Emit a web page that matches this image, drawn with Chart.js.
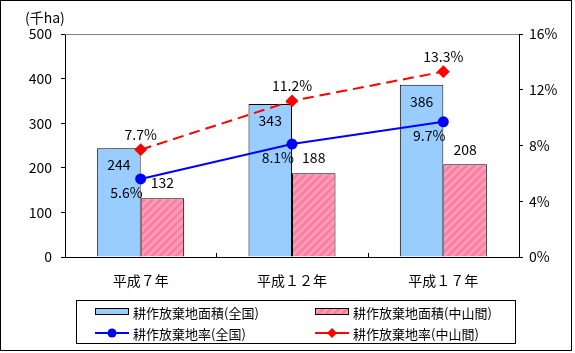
<!DOCTYPE html>
<html>
<head>
<meta charset="utf-8">
<script src="https://cdn.jsdelivr.net/npm/chart.js@4"></script>
<style>
  body { margin: 0; background: #fff; }
  canvas { display: block; }
</style>
</head>
<body>
<canvas id="grafico" width="575" height="353"></canvas>
<script>
var categorias = ["平成７年", "平成１２年", "平成１７年"];
var areaZenkoku = [244, 343, 386];
var areaChusankan = [132, 188, 208];
var ritsuZenkoku = [5.6, 8.1, 9.7];
var ritsuChusankan = [7.7, 11.2, 13.3];
var nombresSeries = [
  "耕作放棄地面積(全国)",
  "耕作放棄地面積(中山間)",
  "耕作放棄地率(全国)",
  "耕作放棄地率(中山間)",
];

var fuente = "'Noto Sans CJK JP', 'Noto Sans', sans-serif";
Chart.defaults.font.family = fuente;
Chart.defaults.font.size = 14;
Chart.defaults.color = "#000";

// trama rayada rosa
function hacerTrama() {
  var c = document.createElement("canvas");
  c.width = 8;
  c.height = 8;
  var g = c.getContext("2d");
  g.fillStyle = "#ff99cc";
  g.fillRect(0, 0, 8, 8);
  g.strokeStyle = "#ff7f86";
  g.lineWidth = 2.5;
  g.beginPath();
  g.moveTo(-2, 10); g.lineTo(10, -2);
  g.moveTo(-6, 6); g.lineTo(6, -6);
  g.moveTo(2, 14); g.lineTo(14, 2);
  g.stroke();
  return g.createPattern(c, "repeat");
}
var trama = hacerTrama();

// etiquetas de datos
var etiquetas = {
  id: "etiquetas",
  afterDatasetsDraw: function (chart) {
    var ctx = chart.ctx;
    ctx.save();
    ctx.font = "14px " + fuente;
    ctx.fillStyle = "#000";
    ctx.textBaseline = "middle";
    chart.data.datasets.forEach(function (ds, i) {
      var meta = chart.getDatasetMeta(i);
      meta.data.forEach(function (el, j) {
        var v = ds.data[j];
        var txt = ds.esPct ? v.toFixed(1) + "%" : String(v);
        var x = el.x, y = el.y;
        if (ds.pos === "dentro") { ctx.textAlign = "center"; y += 17; }
        if (ds.pos === "arriba") { ctx.textAlign = "center"; y -= 15; }
        if (ds.pos === "abajoIzq") { ctx.textAlign = "right"; x += 2; y += 14; }
        ctx.fillText(txt, x, y);
      });
    });
    ctx.restore();
  },
};

// marco, ticks interiores, unidad y leyenda
var adornos = {
  id: "adornos",
  afterDraw: function (chart) {
    var ctx = chart.ctx;
    var a = chart.chartArea;
    ctx.save();
    ctx.lineWidth = 1;
    ctx.strokeStyle = "#808080";
    ctx.beginPath();
    ctx.moveTo(a.left, Math.round(a.top) + 0.5);
    ctx.lineTo(a.right, Math.round(a.top) + 0.5);
    ctx.stroke();

    ctx.strokeStyle = "#000";
    var ancho = (a.right - a.left) / categorias.length;
    ctx.beginPath();
    for (var k = 1; k < categorias.length; k++) {
      var xx = Math.round(a.left + ancho * k) + 0.5;
      ctx.moveTo(xx, a.bottom);
      ctx.lineTo(xx, a.bottom - 4);
    }
    ctx.stroke();

    ctx.strokeRect(0.5, 0.5, 571, 350);

    ctx.fillStyle = "#000";
    ctx.font = "14px " + fuente;
    ctx.textAlign = "left";
    ctx.textBaseline = "middle";
    ctx.fillText("(千ha)", 25, 18);

    // leyenda
    ctx.strokeRect(76.5, 300.5, 439, 43);
    ctx.font = "13px " + fuente;
    var cols = [95, 315];
    var filas = [312, 333];
    for (var n = 0; n < 4; n++) {
      var x0 = cols[n % 2], y0 = filas[Math.floor(n / 2)];
      if (n < 2) {
        ctx.fillStyle = n === 0 ? "#99ccff" : trama;
        ctx.fillRect(x0, y0 - 3, 34, 6);
        ctx.strokeStyle = "#000";
        ctx.strokeRect(x0 + 0.5, y0 - 3.5, 33, 6);
      } else {
        var col = n === 2 ? "#0000ff" : "#ff0000";
        ctx.strokeStyle = col;
        ctx.lineWidth = 2;
        ctx.beginPath();
        ctx.moveTo(x0, y0);
        ctx.lineTo(x0 + 34, y0);
        ctx.stroke();
        ctx.fillStyle = col;
        ctx.beginPath();
        if (n === 2) {
          ctx.arc(x0 + 17, y0, 4.5, 0, Math.PI * 2);
        } else {
          ctx.moveTo(x0 + 17, y0 - 5);
          ctx.lineTo(x0 + 22, y0);
          ctx.lineTo(x0 + 17, y0 + 5);
          ctx.lineTo(x0 + 12, y0);
          ctx.closePath();
        }
        ctx.fill();
        ctx.lineWidth = 1;
      }
      ctx.fillStyle = "#000";
      ctx.fillText(nombresSeries[n], x0 + 38, y0 + 1);
    }
    ctx.restore();
  },
};

var grafico = new Chart(document.getElementById("grafico"), {
  data: {
    labels: categorias,
    datasets: [
      {
        type: "bar",
        label: nombresSeries[0],
        data: areaZenkoku,
        backgroundColor: "#99ccff",
        borderColor: "#000",
        borderWidth: 1,
        yAxisID: "y",
        order: 2,
        pos: "dentro",
      },
      {
        type: "bar",
        label: nombresSeries[1],
        data: areaChusankan,
        backgroundColor: trama,
        borderColor: "#000",
        borderWidth: 1,
        yAxisID: "y",
        order: 2,
        pos: "arriba",
      },
      {
        type: "line",
        label: nombresSeries[2],
        data: ritsuZenkoku,
        borderColor: "#0000ff",
        backgroundColor: "#0000ff",
        borderWidth: 2,
        pointStyle: "circle",
        pointRadius: 4.5,
        yAxisID: "y1",
        order: 1,
        esPct: true,
        pos: "abajoIzq",
      },
      {
        type: "line",
        label: nombresSeries[3],
        data: ritsuChusankan,
        borderColor: "#ff0000",
        backgroundColor: "#ff0000",
        borderWidth: 2,
        borderDash: [11, 6],
        pointStyle: "rectRot",
        pointRadius: 5,
        yAxisID: "y1",
        order: 1,
        esPct: true,
        pos: "arriba",
      },
    ],
  },
  options: {
    responsive: false,
    animation: false,
    layout: { padding: { top: 34, left: 0, right: 0, bottom: 0 } },
    plugins: { legend: { display: false }, tooltip: { enabled: false } },
    datasets: { bar: { categoryPercentage: 0.575, barPercentage: 1 } },
    scales: {
      x: {
        grid: { display: false, drawTicks: false },
        border: { display: true, color: "#000" },
        ticks: { padding: 15 },
        afterFit: function (s) { s.height = 96; },
      },
      y: {
        position: "left",
        min: 0,
        max: 500,
        ticks: { stepSize: 100, padding: 9 },
        grid: { drawOnChartArea: false, tickLength: 4, color: "#000" },
        border: { display: true, color: "#000" },
        afterFit: function (s) { s.width = 65; },
      },
      y1: {
        position: "right",
        min: 0,
        max: 16,
        ticks: {
          stepSize: 4,
          padding: 6,
          callback: function (v) { return v + "%"; },
        },
        grid: { drawOnChartArea: false, tickLength: 4, color: "#000" },
        border: { display: true, color: "#000" },
        afterFit: function (s) { s.width = 56; },
      },
    },
  },
  plugins: [etiquetas, adornos],
});
</script>
</body>
</html>
